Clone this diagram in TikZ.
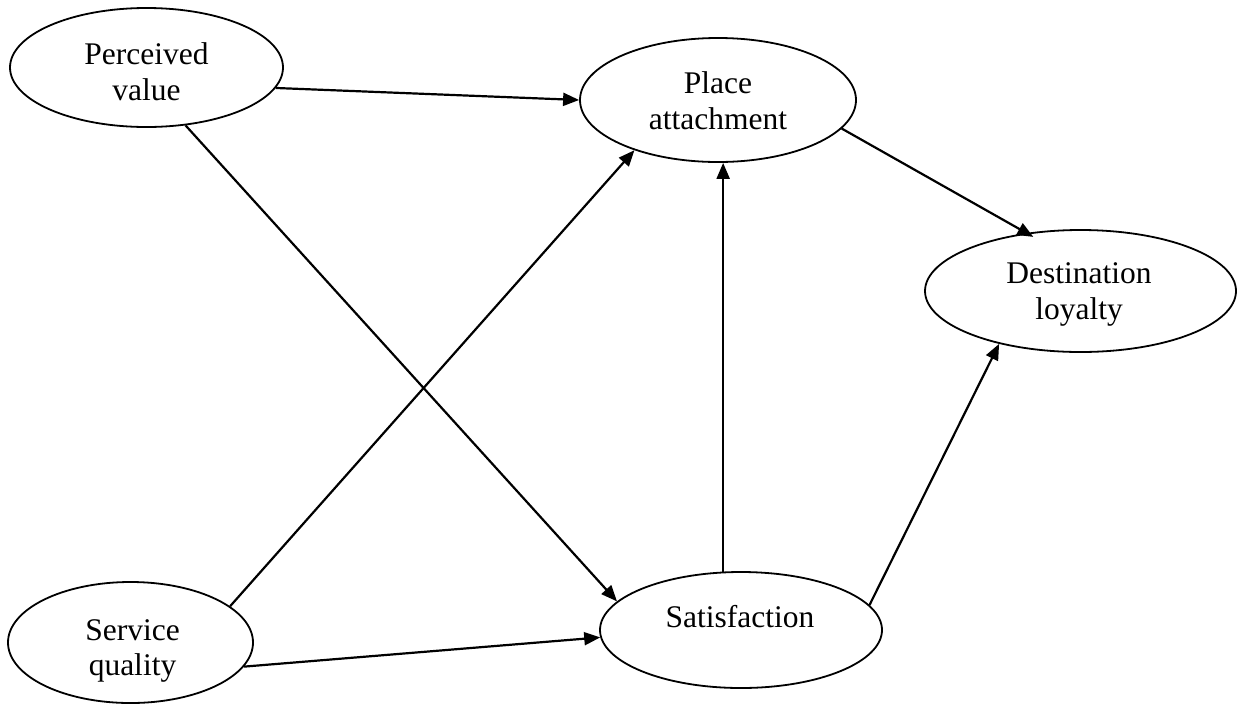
\documentclass[tikz,border=0pt]{standalone}
\usepackage{fontspec}
\setmainfont{Liberation Serif}
\usetikzlibrary{shapes.geometric,arrows.meta}
\begin{document}
\begin{tikzpicture}[x=1pt,y=1pt,
  construct/.style={ellipse, draw=black, line width=1.8pt, inner sep=0pt},
  caption/.style={anchor=base, inner sep=0pt, font=\fontsize{31.5}{36}\selectfont},
  effect/.style={line width=2.2pt, -{Triangle[length=16pt,width=13pt]}}
]
% page
\fill[white] (0,0) rectangle (1239,-705);
\useasboundingbox (0,0) rectangle (1239,-705);

% constructs
\node[construct, minimum width=273pt, minimum height=119pt] (pv)  at (146.5,-67.5) {};
\node[construct, minimum width=276pt, minimum height=124pt] (pa)  at (718,-100)    {};
\node[construct, minimum width=311pt, minimum height=122pt] (dl)  at (1080.5,-291) {};
\node[construct, minimum width=245pt, minimum height=121pt] (sq)  at (130.5,-642.5) {};
\node[construct, minimum width=282pt, minimum height=116pt] (sat) at (741,-630)    {};

% construct names
\node[caption] (pv1)  at (146.5,-64)  {Perceived};
\node[caption] (pv2)  at (146.5,-100) {value};
\node[caption] (pa1)  at (718,-93)    {Place};
\node[caption] (pa2)  at (718,-129)   {attachment};
\node[caption] (dl1)  at (1079,-283)  {Destination};
\node[caption] (dl2)  at (1079,-319)  {loyalty};
\node[caption] (sq1)  at (132.5,-640) {Service};
\node[caption] (sq2)  at (132.5,-675) {quality};
\node[caption] (sat1) at (740,-627)   {Satisfaction};

% hypothesised paths
\draw[effect] (pv.-9)      -- (pa.west);
\draw[effect] (pv.-56.65)  -- (sat.167.9);
\draw[effect] (sq.20.3)    -- (pa.211);
\draw[effect] (sq.-12.1)   -- (sat.183.65);
\draw[effect] (sat.107.2)  -- (sat.107.2 |- pa.south);
\draw[effect, shorten >=-8pt] (pa.-13.1) -- (dl.133.4);
\draw[effect] (sat.11.5)   -- (dl.213);
\end{tikzpicture}
\end{document}
